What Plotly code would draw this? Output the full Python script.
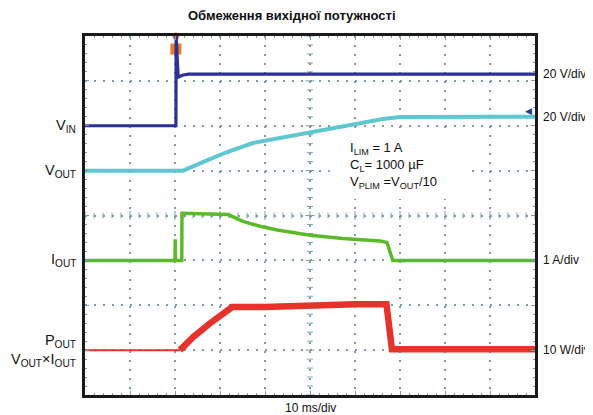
import plotly.graph_objects as go

# ---------------- data (time in ms) ----------------
vin_t = [0, 20.2, 20.25, 20.7, 21.8, 23.0, 100]
vin_v = [0, 0, 40, 21.7, 22.6, 23.0, 23.0]          # V, 20 V/div

vout_t = [0, 21.8, 26.2, 31.6, 37.3, 43.3, 50, 56, 61.1, 66.2, 70, 100]
vout_v = [0, 0, 3.8, 8.3, 12.3, 14.5, 17.2, 19.4, 21.2, 23.0, 23.9, 24.0]  # V, 20 V/div

iout_t = [0, 20.0, 20.05, 20.1, 21.5, 21.55, 31.8, 35.1, 38.9, 42.7, 50, 57.3, 65.6, 67.1, 68.4, 100]
iout_a = [0, 0, 0.47, 0, 0, 1.05, 1.02, 0.87, 0.76, 0.675, 0.56, 0.49, 0.43, 0.40, 0, 0]  # A, 1 A/div

pout_t = [0, 21.1, 24, 27.8, 31.5, 32.7, 40, 50, 60, 67.0, 68.2, 100]
pout_w = [0, 0, 2.9, 6.0, 8.8, 9.6, 9.6, 10.0, 10.2, 10.2, 0.2, 0.2]  # W, 10 W/div

trigger_ms = 20.2

scale_labels = ["20 V/div", "20 V/div", "1 A/div", "10 W/div"]
time_label = "10 ms/div"
title = "Обмеження вихідної потужності"

# ---------------- styling ----------------
FONT = "Liberation Sans, Arial, sans-serif"
C_VIN = "#2b3196"
C_VOUT = "#5ec7d0"
C_IOUT = "#5cb92c"
C_POUT = "#e5322a"
GRID = "#7a9ea8"

# page body has an 8px margin; compensate so the plot box lands at 85..535 x 36..395
PAGE_OFF = 8
W, H = 593 - PAGE_OFF, 415 - PAGE_OFF
ML, MR, MT, MB = 85 - PAGE_OFF, 58, 36 - PAGE_OFF, 20
PW = W - ML - MR
PH = H - MT - MB

fig = go.Figure()

fig.add_trace(go.Scatter(x=vin_t, y=vin_v, yaxis="y2", mode="lines",
                         line=dict(color=C_VIN, width=3.2), hoverinfo="skip"))
fig.add_trace(go.Scatter(x=vout_t, y=vout_v, yaxis="y3", mode="lines",
                         line=dict(color=C_VOUT, width=4), hoverinfo="skip"))
fig.add_trace(go.Scatter(x=iout_t, y=iout_a, yaxis="y4", mode="lines",
                         line=dict(color=C_IOUT, width=3.5), hoverinfo="skip"))
fig.add_trace(go.Scatter(x=pout_t[:2], y=pout_w[:2], yaxis="y5", mode="lines",
                         line=dict(color=C_POUT, width=2), hoverinfo="skip"))
fig.add_trace(go.Scatter(x=pout_t[1:], y=pout_w[1:], yaxis="y5", mode="lines",
                         line=dict(color=C_POUT, width=6.5), hoverinfo="skip"))

# trigger marker
fig.add_trace(go.Scatter(x=[trigger_ms, trigger_ms], y=[3.71, 4.0], yaxis="y", mode="markers",
                         marker=dict(symbol=["square", "circle"], size=[11, 7],
                                     color="#ef7b22", opacity=1, line=dict(width=0)),
                         cliponaxis=False, hoverinfo="skip"))

# graticule center-line ticks
shapes = []
for k in range(0, 51):
    t = k * 2
    h = 0.1 if k % 5 == 0 else 0.065
    shapes.append(dict(type="line", xref="x", yref="y", x0=t, x1=t, y0=-h, y1=h,
                       line=dict(color=GRID, width=1), layer="between"))
for k in range(-20, 21):
    d = k * 0.2
    w = 1.0 if k % 5 == 0 else 0.65
    shapes.append(dict(type="line", xref="x", yref="y", x0=50 - w, x1=50 + w, y0=d, y1=d,
                       line=dict(color=GRID, width=1), layer="between"))
# white box behind the condition text
shapes.append(dict(type="rect", xref="x", yref="y", x0=54.4, x1=85.6, y0=0.37, y1=1.82,
                   fillcolor="white", line=dict(width=0), layer="between"))

ann = []
lab_font = dict(family=FONT, size=14.5, color="#111")
xl = -7 / PW
ann.append(dict(text="V<sub>IN</sub>", xref="paper", yref="y2", x=xl, y=0,
                xanchor="right", yanchor="middle", showarrow=False, font=lab_font))
ann.append(dict(text="V<sub>OUT</sub>", xref="paper", yref="y3", x=xl, y=0,
                xanchor="right", yanchor="middle", showarrow=False, font=lab_font))
ann.append(dict(text="I<sub>OUT</sub>", xref="paper", yref="y4", x=xl, y=0,
                xanchor="right", yanchor="middle", showarrow=False, font=lab_font))
ann.append(dict(text="P<sub>OUT</sub><br>V<sub>OUT</sub>×I<sub>OUT</sub>", xref="paper", yref="y5",
                x=xl, y=0, xanchor="right", yanchor="middle", align="right",
                showarrow=False, font=lab_font))

r_font = dict(family=FONT, size=12, color="#111")
xr = 1 + 6 / PW
ann.append(dict(text=scale_labels[0], xref="paper", yref="y2", x=xr, y=vin_v[-1],
                xanchor="left", yanchor="middle", showarrow=False, font=r_font))
ann.append(dict(text=scale_labels[1], xref="paper", yref="y3", x=xr, y=vout_v[-1],
                xanchor="left", yanchor="middle", showarrow=False, font=r_font))
ann.append(dict(text=scale_labels[2], xref="paper", yref="y4", x=xr, y=0,
                xanchor="left", yanchor="middle", showarrow=False, font=r_font))
ann.append(dict(text=scale_labels[3], xref="paper", yref="y5", x=xr, y=0,
                xanchor="left", yanchor="middle", showarrow=False, font=r_font))

ann.append(dict(text="◀", xref="paper", yref="y", x=0.997, y=2.33, xanchor="right",
                yanchor="middle", showarrow=False, font=dict(family="DejaVu Sans", size=9, color=C_VIN)))

ann.append(dict(text=time_label, xref="paper", yref="paper", x=(310 - 85) / PW, y=-13 / PH,
                xanchor="center", yanchor="middle", showarrow=False, font=r_font))
ann.append(dict(text="<b>" + title + "</b>", xref="paper", yref="paper", x=(292 - 85) / PW,
                y=1 + 21 / PH, xanchor="center", yanchor="middle", showarrow=False,
                font=dict(family=FONT, size=13, color="#111")))

ann.append(dict(text="I<sub>LIM</sub> = 1 A<br>C<sub>L</sub>= 1000 µF<br>V<sub>PLIM</sub> =V<sub>OUT</sub>/10",
                xref="x", yref="y", x=58.4, y=1.72, xanchor="left", yanchor="top", align="left",
                showarrow=False, font=dict(family=FONT, size=13, color="#111")))

common_hidden = dict(overlaying="y", visible=False, fixedrange=True)
grid_common = dict(showgrid=True, gridcolor=GRID, gridwidth=1.6, griddash="1.6px,7.4px",
                   zeroline=False, showticklabels=False, showline=True, linecolor="#1a1a1a",
                   linewidth=2.5, mirror="ticks", ticks="inside", ticklen=4, tickcolor=GRID)
fig.update_layout(
    width=W, height=H,
    margin=dict(l=ML, r=MR, t=MT, b=MB, pad=0),
    paper_bgcolor="white", plot_bgcolor="white",
    showlegend=False, hovermode=False,
    shapes=shapes, annotations=ann,
    xaxis=dict(range=[0, 100], tick0=0, dtick=10, **grid_common,
               minor=dict(ticks="inside", dtick=2, ticklen=2.5, tickcolor=GRID)),
    yaxis=dict(range=[-4, 4], tick0=0, dtick=1, **grid_common,
               minor=dict(ticks="inside", dtick=0.2, ticklen=2.5, tickcolor=GRID)),
    yaxis2=dict(range=[-120, 40], **common_hidden),
    yaxis3=dict(range=[-100, 60], **common_hidden),
    yaxis4=dict(range=[-3, 5], **common_hidden),
    yaxis5=dict(range=[-10, 70], **common_hidden),
)

fig.write_html("out.html")
